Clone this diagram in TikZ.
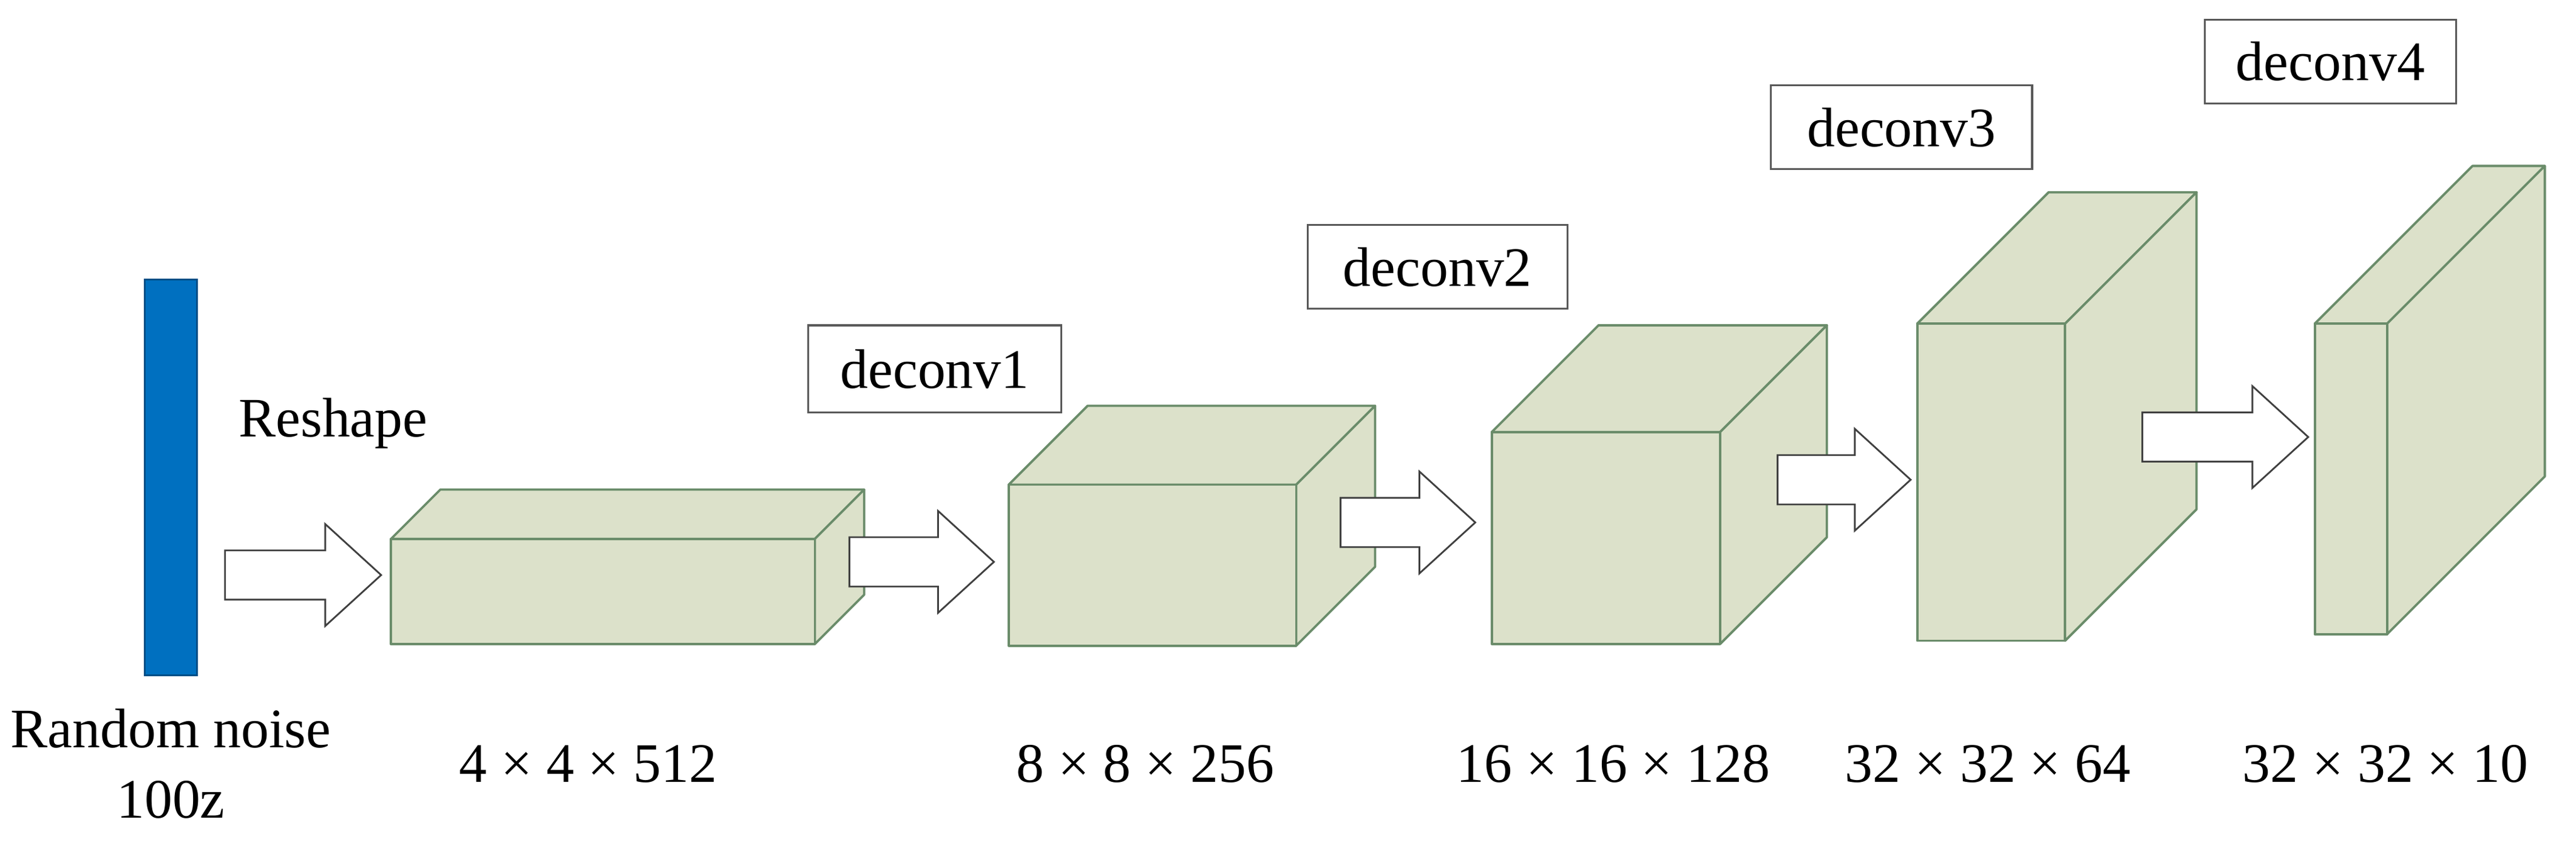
\documentclass[tikz,border=0pt]{standalone}
\usepackage{fontspec}
\setmainfont{Liberation Serif}
\definecolor{cubefill}{HTML}{DCE1CA}
\definecolor{cubeline}{HTML}{6A8C6A}
\definecolor{barblue}{HTML}{0070C0}
\newcommand\blk[5]{% x1 ytop x2 ybot depth
  \draw[cubebox] (#1,#2) -- ++(#5,-#5) -- (#3+#5,#2-#5) -- (#3,#2) -- cycle;
  \draw[cubebox] (#3,#2) -- (#3+#5,#2-#5) -- (#3+#5,#4-#5) -- (#3,#4) -- cycle;
  \draw[cubebox] (#1,#2) rectangle (#3,#4);}
\newcommand\fatarrow[3]{% xstart xend ycenter
  \draw[fatarr] (#1,#3-15) -- (#2-34,#3-15) -- (#2-34,#3-31) -- (#2,#3) -- (#2-34,#3+31) -- (#2-34,#3+15) -- (#1,#3+15) -- cycle;}
\newcommand\tbx[6]{% name x1 y1 x2 y2 text
  \draw[tframe] (#2,#3) rectangle (#4,#5);
  \node[tlbl] (#1) at ({(#2+#4)/2},{(#3+#5)/2}) {#6};}
\tikzset{
  cubebox/.style={fill=cubefill,draw=cubeline,line width=0.8pt,line join=round},
  fatarr/.style={fill=white,draw=black!75,line width=0.6pt},
  lbl/.style={inner sep=0pt,font=\fontsize{19.3}{23}\selectfont,anchor=base},
  tframe/.style={draw=black!65,line width=0.7pt,fill=white},
  tlbl/.style={inner sep=0pt,font=\fontsize{19.3}{23}\selectfont}
}
\begin{document}
\begin{tikzpicture}[x=0.02cm,y=-0.02cm]
\useasboundingbox (0,0) rectangle (1568,516);
\fill[barblue] (88,170) rectangle (120,411);
\draw[barblue!70!black,line width=0.6pt] (88,170) rectangle (120,411);
\node[lbl,anchor=base west] (reshape) at (145,266) {Reshape};
\fatarrow{137}{232}{350}
\blk{238}{328}{496}{392}{30}
\fatarrow{517}{605}{342}
\blk{614}{295}{789}{393}{48}
\fatarrow{816}{898}{318}
\blk{908}{263}{1047}{392}{65}
\fatarrow{1082}{1163}{292}
\blk{1167}{197}{1257}{390}{80}
\fatarrow{1304}{1405}{266}
\blk{1409}{197}{1453}{386}{96}
\tbx{d1}{492}{198}{646}{251}{deconv1}
\tbx{d2}{796}{137}{954}{188}{deconv2}
\tbx{d3}{1078}{52}{1237}{103}{deconv3}
\tbx{d4}{1342}{12}{1495}{63}{deconv4}
\node[lbl] (rn) at (104,455) {Random noise};
\node[lbl] (rz) at (104,498) {100z};
\node[lbl] (s1) at (358,476) {4 × 4 × 512};
\node[lbl] (s2) at (697,476) {8 × 8 × 256};
\node[lbl] (s3) at (982,476) {16 × 16 × 128};
\node[lbl] (s4) at (1210,476) {32 × 32 × 64};
\node[lbl] (s5) at (1452,476) {32 × 32 × 10};
\end{tikzpicture}
\end{document}
